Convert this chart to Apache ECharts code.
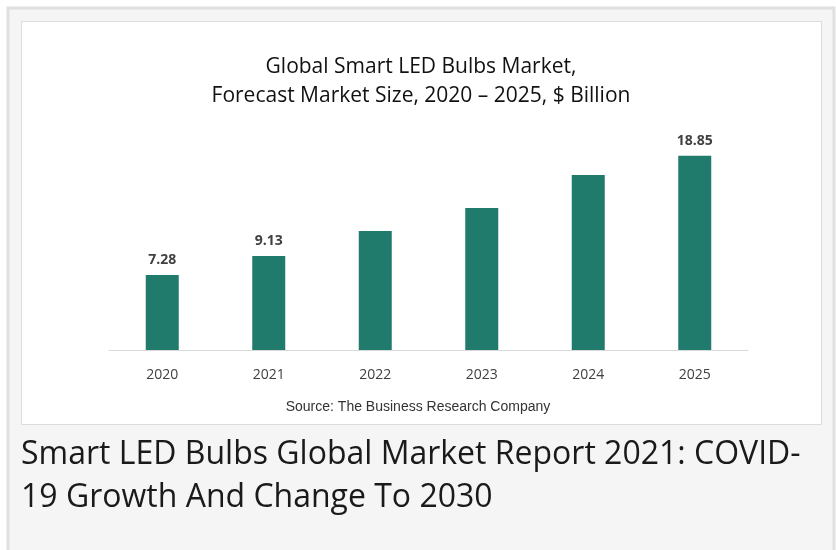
<!DOCTYPE html>
<html>
<head>
<meta charset="utf-8">
<script src="https://cdn.jsdelivr.net/npm/echarts@6/dist/echarts.min.js"></script>
<style>
  html, body { margin: 0; padding: 0; background: #fff; }
  #chart { width: 836px; height: 550px; }
</style>
</head>
<body>
<div id="chart"></div>
<script>
// data
const years = ['2020', '2021', '2022', '2023', '2024', '2025']
const marketSize = [7.28, 9.13, 11.55, 13.79, 16.99, 18.85]
// only these bars carry a value label in the original
const labelled = [true, true, false, false, false, true]

const chart = echarts.init(document.getElementById('chart'))

chart.setOption({
  animation: false,
  backgroundColor: '#fff',
  title: {
    text: 'Global Smart LED Bulbs Market,\nForecast Market Size, 2020 – 2025, $ Billion',
    left: 416,
    top: 48,
    textAlign: 'center',
    textStyle: {
      fontFamily: 'Open Sans',
      fontWeight: 'normal',
      fontSize: 21,
      lineHeight: 29,
      color: '#111'
    }
  },
  graphic: [
    // outer grey panel
    { type: 'rect', z: -10, shape: { x: 8, y: 8, width: 826, height: 545 },
      style: { fill: '#f5f5f5', stroke: '#e0e0e0', lineWidth: 3 } },
    // white chart card
    { type: 'rect', z: -9, shape: { x: 21.5, y: 21.5, width: 800, height: 403 },
      style: { fill: '#fff', stroke: '#dcdcdc', lineWidth: 1 } },
    { type: 'text', left: 'center', top: 400, z: 5,
      style: { text: 'Source: The Business Research Company', fontFamily: 'Liberation Sans',
        fontSize: 14, fill: '#333' } },
    { type: 'text', left: 21, top: 433, z: 5,
      style: { text: 'Smart LED Bulbs Global Market Report 2021: COVID-\n19 Growth And Change To 2030',
        fontFamily: 'Open Sans', fontSize: 32, lineHeight: 43, fill: '#1a1a1a' } }
  ],
  grid: { left: 109, right: 88, top: 144, bottom: 200 },
  xAxis: {
    type: 'category',
    data: years,
    axisLine: { lineStyle: { color: '#d9d9d9', width: 1 } },
    axisTick: { show: false },
    axisLabel: { color: '#404040', fontSize: 14, margin: 18, fontFamily: 'Open Sans' }
  },
  yAxis: {
    type: 'value',
    min: 0,
    max: 20,
    show: false,
    splitLine: { show: false }
  },
  series: [{
    type: 'bar',
    barWidth: 33,
    itemStyle: { color: '#217b6d' },
    data: marketSize.map((v, i) => ({
      value: v,
      label: {
        show: labelled[i],
        position: 'top',
        distance: 8,
        formatter: v.toFixed(2),
        fontWeight: 'bold',
        fontSize: 14,
        color: '#404040',
        fontFamily: 'Open Sans'
      }
    }))
  }]
})
</script>
</body>
</html>
